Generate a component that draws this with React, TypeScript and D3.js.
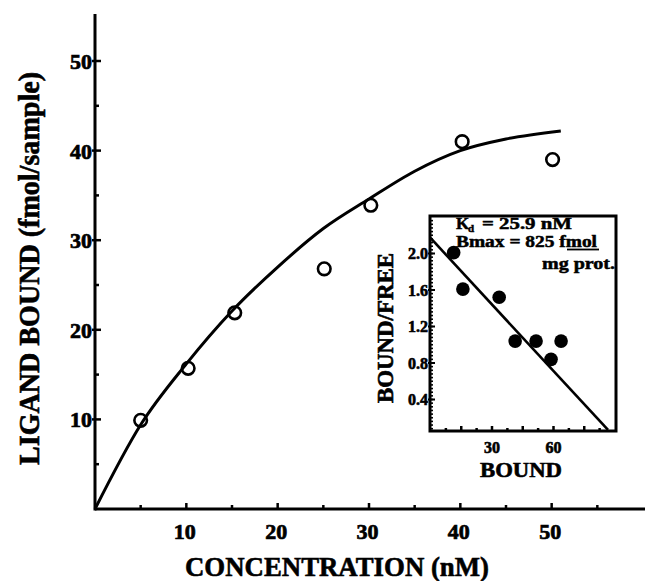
import * as d3 from 'd3';

// main saturation plot
const concentration = [5, 10.2, 15.3, 25.1, 30.2, 40.2, 50.1];
const ligandBound = [9.9, 15.7, 21.9, 26.8, 33.9, 41.0, 39.0];
const fitConc = [0, 5, 10, 15, 20, 25, 30, 35, 40, 45, 51];
const fitBound = [0, 9.4, 16.2, 22.1, 27, 31.3, 34.6, 37.7, 40, 41.3, 42.2];
const xMajor = [10, 20, 30, 40, 50];
const xMinor = [5, 15, 25, 35, 45, 55];
const yMajor = [10, 20, 30, 40, 50];
const yMinor = [5, 15, 25, 35, 45];

// scatchard inset
const bound = [11.3, 15.8, 33.5, 41.3, 51.5, 58.8, 63.7];
const boundFree = [2.01, 1.61, 1.52, 1.04, 1.04, 0.84, 1.04];
const lineBound = [0, 86.6];
const lineBF = [2.17, 0.066];
const insetXLabels = [30, 60];
const insetXMajor = [15, 30, 45, 60, 75];
const insetXMinor = [7.5, 22.5, 37.5, 52.5, 67.5, 82.5];
const insetYLabels = [0.4, 0.8, 1.2, 1.6, 2.0];

const FONT = '"Liberation Serif", "Times New Roman", serif';
const INSET = { left: 430, right: 616, top: 216, bottom: 431 };

export default function App() {
  const x = d3.scaleLinear().domain([0, 60]).range([95, 643]);
  const y = d3.scaleLinear().domain([0, 55]).range([509, 16.2]);

  const xi = d3.scaleLinear().domain([0, 90]).range([430.5, 615]);
  const yi = d3.scaleLinear().domain([0, 2.4]).range([436, 217]);

  const fitLine = d3.line<number>()
    .x((_, i) => x(fitConc[i]))
    .y((d) => y(d))
    .curve(d3.curveMonotoneX)(fitBound) as string;

  const scatLine = d3.line<number>()
    .x((_, i) => xi(lineBound[i]))
    .y((d) => yi(d))(lineBF) as string;

  // dense ticks on the inset's left edge
  const insetYTicks = d3.range(0.04, 2.4, 0.04).filter(v => yi(v) < INSET.bottom - 2 && yi(v) > INSET.top + 2);

  const y0 = y(0);
  const x0 = x(0);

  return (
    <svg width={645} height={581} style={{ position: 'absolute', left: 0, top: 0, background: '#fff' }}
      fontFamily={FONT} fontWeight="bold">
      <rect width={645} height={581} fill="#fff" />

      {/* axes */}
      <line x1={x0} x2={645} y1={y0} y2={y0} stroke="#000" strokeWidth={3} />
      <line x1={x0} x2={x0} y1={y0 + 1.5} y2={14} stroke="#000" strokeWidth={3} />

      <g stroke="#000" strokeWidth={0.7}>
        {xMajor.map(v => (
          <text key={'xl' + v} x={x(v) - 1.5} y={539} textAnchor="middle" fontSize={22}>{v}</text>
        ))}
        {yMajor.map(v => (
          <text key={'yl' + v} x={92} y={y(v)} dy="0.36em" textAnchor="end" fontSize={22}>{v}</text>
        ))}
      </g>
      {xMajor.map(v => (
        <line key={'xm' + v} x1={x(v)} x2={x(v)} y1={y0} y2={y0 - 6} stroke="#000" strokeWidth={2.5} />
      ))}
      {xMinor.map(v => (
        <line key={'xn' + v} x1={x(v)} x2={x(v)} y1={y0} y2={y0 - 4} stroke="#000" strokeWidth={2.5} />
      ))}
      {yMajor.map(v => (
        <line key={'ym' + v} x1={x0 - 3} x2={x0 + 6} y1={y(v)} y2={y(v)} stroke="#000" strokeWidth={2.5} />
      ))}
      {yMinor.map(v => (
        <line key={'yn' + v} x1={x0} x2={x0 + 4} y1={y(v)} y2={y(v)} stroke="#000" strokeWidth={2.5} />
      ))}

      {/* titles */}
      <g stroke="#000" strokeWidth={0.6}>
        <text transform="translate(39,268.5) rotate(-90)" textAnchor="middle" fontSize={29}
          textLength={393} lengthAdjust="spacingAndGlyphs">LIGAND BOUND (fmol/sample)</text>
        <text x={337} y={576} textAnchor="middle" fontSize={28}
          textLength={304} lengthAdjust="spacingAndGlyphs">CONCENTRATION (nM)</text>
      </g>

      {/* fitted curve + data */}
      <path d={fitLine} fill="none" stroke="#000" strokeWidth={3} />
      {concentration.map((c, i) => (
        <circle key={'p' + i} cx={x(c)} cy={y(ligandBound[i])} r={6.3} fill="none" stroke="#000" strokeWidth={2.6} />
      ))}

      {/* inset */}
      <rect x={INSET.left} y={INSET.top} width={INSET.right - INSET.left} height={INSET.bottom - INSET.top}
        fill="#fff" stroke="#000" strokeWidth={3} />
      {insetYTicks.map((v, i) => (
        <line key={'iy' + i} x1={INSET.left - 1} x2={INSET.left + 3} y1={yi(v)} y2={yi(v)} stroke="#000" strokeWidth={1.6} />
      ))}
      {insetYLabels.map(v => (
        <line key={'iyt' + v} x1={INSET.left - 2} x2={INSET.left + 5} y1={yi(v)} y2={yi(v)} stroke="#000" strokeWidth={2} />
      ))}
      {insetXMajor.map(v => (
        <line key={'ixm' + v} x1={xi(v)} x2={xi(v)} y1={INSET.bottom} y2={INSET.bottom - 5} stroke="#000" strokeWidth={2.5} />
      ))}
      {insetXMinor.map(v => (
        <line key={'ixn' + v} x1={xi(v)} x2={xi(v)} y1={INSET.bottom} y2={INSET.bottom - 3} stroke="#000" strokeWidth={2.5} />
      ))}

      <g stroke="#000" strokeWidth={0.6}>
        {insetYLabels.map(v => (
          <text key={'iyl' + v} x={428} y={yi(v)} dy="0.36em" textAnchor="end" fontSize={16}>{v.toFixed(1)}</text>
        ))}
        {insetXLabels.map(v => (
          <text key={'ixl' + v} x={xi(v)} y={453} textAnchor="middle" fontSize={16}>{v}</text>
        ))}
        <text x={521} y={477} textAnchor="middle" fontSize={21}
          textLength={82} lengthAdjust="spacingAndGlyphs">BOUND</text>
        <text transform="translate(393,328) rotate(-90)" textAnchor="middle" fontSize={23}
          textLength={150} lengthAdjust="spacingAndGlyphs">BOUND/FREE</text>
      </g>

      <path d={scatLine} fill="none" stroke="#000" strokeWidth={2.6} />
      {bound.map((b, i) => (
        <circle key={'s' + i} cx={xi(b)} cy={yi(boundFree[i])} r={6.8} fill="#000" />
      ))}

      <g stroke="#000" strokeWidth={0.5}>
        <text x={456} y={229} fontSize={17}>K</text>
        <text x={468} y={232} fontSize={11}>d</text>
        <text x={482} y={229} fontSize={17} textLength={90} lengthAdjust="spacingAndGlyphs">= 25.9 nM</text>
        <text x={456} y={246.5} fontSize={16} textLength={141} lengthAdjust="spacingAndGlyphs">Bmax = 825 fmol</text>
        <text x={615} y={268.5} textAnchor="end" fontSize={17} textLength={73} lengthAdjust="spacingAndGlyphs">mg prot.</text>
      </g>
      <line x1={567} x2={599} y1={249.5} y2={249.5} stroke="#000" strokeWidth={1.8} />
    </svg>
  );
}
